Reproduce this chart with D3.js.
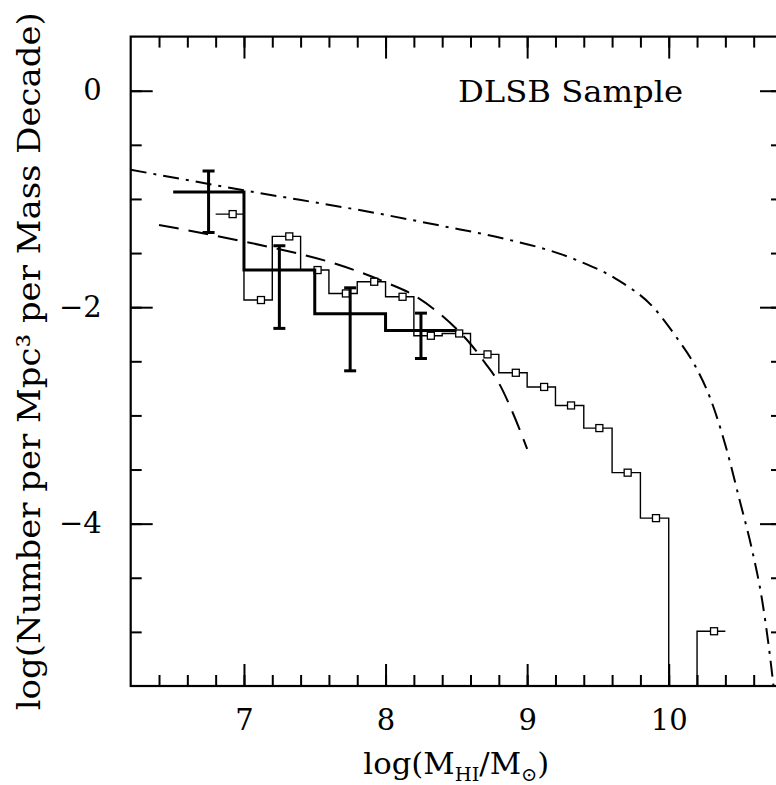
<!DOCTYPE html>
<html>
<head>
<meta charset="utf-8">
<script src="https://cdn.jsdelivr.net/npm/d3@7"></script>
<style>
  html, body { margin: 0; padding: 0; background: #fff; }
  svg { display: block; }
  text { font-family: "DejaVu Serif", "Liberation Serif", serif; fill: #000; }
</style>
</head>
<body>
<div id="chart"></div>
<script>
// ---------------- data ----------------
// thick histogram (0.5 dex bins) with error bars
const thickEdges  = [6.5, 7.0, 7.5, 8.0, 8.5];
const thickValues = [-0.936, -1.657, -2.061, -2.215];
const errX  = [6.75, 7.25, 7.75, 8.25];
const errHi = [-0.742, -1.432, -1.821, -2.055];
const errLo = [-1.309, -2.196, -2.588, -2.474];

// thin histogram (0.2 dex bins) with square markers
const thinEdges  = [6.8, 7.0, 7.2, 7.4, 7.6, 7.8, 8.0, 8.2, 8.4, 8.6, 8.8, 9.0, 9.2, 9.4, 9.6, 9.8, 10.0];
const thinValues = [-1.14, -1.934, -1.346, -1.657, -1.873, -1.765, -1.904, -2.264, -2.243, -2.436, -2.606, -2.737, -2.908, -3.117, -3.529, -3.949];
const tailEdges  = [10.2, 10.4];
const tailValues = [-4.994];
const squareX = [6.92, 7.12, 7.32, 7.52, 7.72, 7.92, 8.12, 8.32, 8.52, 8.72, 8.92, 9.12, 9.31, 9.51, 9.71, 9.91, 10.32];
const squareY = [-1.14, -1.934, -1.346, -1.657, -1.873, -1.765, -1.904, -2.264, -2.243, -2.436, -2.606, -2.737, -2.908, -3.117, -3.529, -3.949, -4.994];

// dashed curve
const dashX = [6.40, 6.8, 7.2, 7.6, 8.0, 8.2, 8.4, 8.5, 8.6, 8.7, 8.8, 8.9, 9.0];
const dashY = [-1.24, -1.34, -1.45, -1.58, -1.77, -1.89, -2.08, -2.20, -2.34, -2.51, -2.70, -2.98, -3.31];

// dash-dot curve
const ddX = [6.2, 7.0, 7.97, 8.40, 8.78, 9.34, 9.63, 9.89, 10.05, 10.19, 10.29, 10.41, 10.50, 10.59, 10.66, 10.71, 10.74];
const ddY = [-0.73, -0.92, -1.14, -1.25, -1.35, -1.56, -1.74, -2.00, -2.27, -2.55, -2.83, -3.32, -3.78, -4.25, -4.71, -5.17, -5.50];

// axes
const xDomain = [6.2, 10.8];
const yDomain = [-5.5, 0.5];
const xMajor = [7, 8, 9, 10];
const xMinor = d3.range(6.4, 10.79, 0.2).map(v => +v.toFixed(1));
const yMajor = [0, -2, -4];
const yMinor = [0, -0.5, -1, -1.5, -2, -2.5, -3, -3.5, -4, -4.5, -5];

const xTitleMain = "log(M", xTitleSub1 = "HI", xTitleMid = "/M", xTitleSub2 = "\u2299", xTitleEnd = ")";
const yTitle = "log(Number per Mpc\u00B3 per Mass Decade)";
const sampleLabel = "DLSB Sample";

// ---------------- drawing ----------------
const W = 776, H = 785;
const L = 130.7, R = 782, T = 36.6, B = 686;

const svg = d3.select("#chart").append("svg").attr("width", W).attr("height", H);
const x = d3.scaleLinear().domain(xDomain).range([L, R]);
const y = d3.scaleLinear().domain(yDomain).range([B, T]);

svg.append("defs").append("clipPath").attr("id", "plotclip")
  .append("rect").attr("x", L).attr("y", T).attr("width", R - L).attr("height", B - T);

function styleAxis(g) {
  g.select(".domain").remove();
  g.selectAll(".tick line").attr("stroke", "#000").attr("stroke-width", 2);
  g.selectAll(".tick text").style("font-size", "29px").attr("fill", "#000");
}

// minor ticks
svg.append("g").attr("transform", `translate(0,${B})`)
  .call(d3.axisBottom(x).tickValues(xMinor).tickSize(-11).tickFormat("")).call(styleAxis);
svg.append("g").attr("transform", `translate(0,${T})`)
  .call(d3.axisTop(x).tickValues(xMinor).tickSize(-11).tickFormat("")).call(styleAxis);
svg.append("g").attr("transform", `translate(${L},0)`)
  .call(d3.axisLeft(y).tickValues(yMinor).tickSize(-11).tickFormat("")).call(styleAxis);
svg.append("g").attr("transform", `translate(${R},0)`)
  .call(d3.axisRight(y).tickValues(yMinor).tickSize(-11).tickFormat("")).call(styleAxis);

// major ticks with labels
svg.append("g").attr("transform", `translate(0,${B})`)
  .call(d3.axisBottom(x).tickValues(xMajor).tickSize(-22).tickPadding(23).tickFormat(d3.format("d"))).call(styleAxis);
svg.append("g").attr("transform", `translate(0,${T})`)
  .call(d3.axisTop(x).tickValues(xMajor).tickSize(-22).tickFormat("")).call(styleAxis);
svg.append("g").attr("transform", `translate(${L},0)`)
  .call(d3.axisLeft(y).tickValues(yMajor).tickSize(-22).tickPadding(29)
    .tickFormat(d => d < 0 ? "\u2212" + Math.abs(d) : String(d))).call(styleAxis);
svg.append("g").attr("transform", `translate(${R},0)`)
  .call(d3.axisRight(y).tickValues(yMajor).tickSize(-22).tickFormat("")).call(styleAxis);

// frame
svg.append("rect").attr("x", L).attr("y", T).attr("width", R - L).attr("height", B - T)
  .attr("fill", "none").attr("stroke", "#000").attr("stroke-width", 2.2);

const plot = svg.append("g").attr("clip-path", "url(#plotclip)");
const line = d3.line().x(d => x(d[0])).y(d => y(d[1]));
const smooth = d3.line().x(d => x(d[0])).y(d => y(d[1])).curve(d3.curveMonotoneX);

// dash-dot curve
plot.append("path").datum(ddX.map((v, i) => [v, ddY[i]]))
  .attr("d", smooth).attr("fill", "none").attr("stroke", "#000")
  .attr("stroke-width", 2).attr("stroke-dasharray", "16,7,3,7");

// dashed curve
plot.append("path").datum(dashX.map((v, i) => [v, dashY[i]]))
  .attr("d", smooth).attr("fill", "none").attr("stroke", "#000")
  .attr("stroke-width", 2).attr("stroke-dasharray", "20,10");

// thin histogram
function stepPoints(edges, vals) {
  const pts = [];
  vals.forEach((v, i) => { pts.push([edges[i], v]); pts.push([edges[i + 1], v]); });
  return pts;
}
const thinPts = stepPoints(thinEdges, thinValues);
thinPts.push([thinEdges[thinEdges.length - 1], yDomain[0]]);
plot.append("path").datum(thinPts).attr("d", line)
  .attr("fill", "none").attr("stroke", "#000").attr("stroke-width", 1.4);
const tailPts = [[tailEdges[0], yDomain[0]]].concat(stepPoints(tailEdges, tailValues));
plot.append("path").datum(tailPts).attr("d", line)
  .attr("fill", "none").attr("stroke", "#000").attr("stroke-width", 1.4);

// squares
plot.selectAll("rect.sq").data(squareX.map((v, i) => [v, squareY[i]])).join("rect")
  .attr("class", "sq")
  .attr("x", d => x(d[0]) - 3.5).attr("y", d => y(d[1]) - 3.5)
  .attr("width", 7).attr("height", 7)
  .attr("fill", "#fff").attr("stroke", "#000").attr("stroke-width", 1.3);

// thick histogram
plot.append("path").datum(stepPoints(thickEdges, thickValues)).attr("d", line)
  .attr("fill", "none").attr("stroke", "#000").attr("stroke-width", 3);

// error bars
const eb = plot.selectAll("g.eb").data(errX.map((v, i) => ({x: v, hi: errHi[i], lo: errLo[i]}))).join("g").attr("class", "eb");
eb.append("line").attr("x1", d => x(d.x)).attr("x2", d => x(d.x))
  .attr("y1", d => y(d.hi)).attr("y2", d => y(d.lo)).attr("stroke", "#000").attr("stroke-width", 3);
eb.append("line").attr("x1", d => x(d.x) - 6).attr("x2", d => x(d.x) + 6)
  .attr("y1", d => y(d.hi)).attr("y2", d => y(d.hi)).attr("stroke", "#000").attr("stroke-width", 3);
eb.append("line").attr("x1", d => x(d.x) - 6).attr("x2", d => x(d.x) + 6)
  .attr("y1", d => y(d.lo)).attr("y2", d => y(d.lo)).attr("stroke", "#000").attr("stroke-width", 3);

// label inside plot
svg.append("text").attr("x", 458).attr("y", 102)
  .style("font-size", "30px").attr("textLength", 225).attr("lengthAdjust", "spacingAndGlyphs")
  .text(sampleLabel);

// x title
const xt = svg.append("text").attr("x", (L + R) / 2).attr("y", 774)
  .attr("text-anchor", "middle").style("font-size", "30px")
  .attr("textLength", 186).attr("lengthAdjust", "spacingAndGlyphs");
xt.append("tspan").text(xTitleMain);
xt.append("tspan").attr("dy", 7).style("font-size", "19px").text(xTitleSub1);
xt.append("tspan").attr("dy", -7).text(xTitleMid);
xt.append("tspan").attr("dy", 7).style("font-size", "19px").text(xTitleSub2);
xt.append("tspan").attr("dy", -7).text(xTitleEnd);

// y title
svg.append("text").attr("transform", `translate(40,${(T + B) / 2}) rotate(-90)`)
  .attr("text-anchor", "middle").style("font-size", "31px")
  .attr("textLength", 698).attr("lengthAdjust", "spacingAndGlyphs")
  .text(yTitle);
</script>
</body>
</html>
